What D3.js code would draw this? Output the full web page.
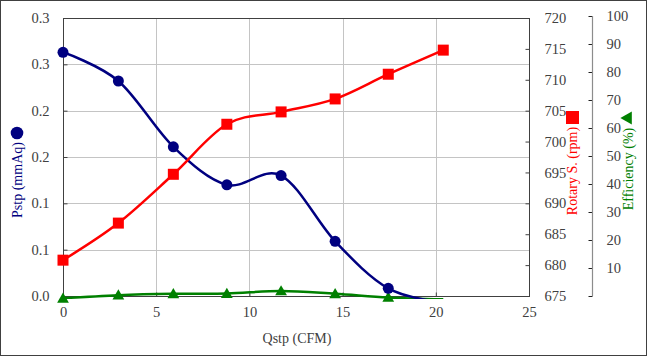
<!DOCTYPE html>
<html><head><meta charset="utf-8">
<script src="https://cdn.jsdelivr.net/npm/d3@7"></script>
<style>
html,body{margin:0;padding:0;background:#fff;}
svg{display:block;font-family:"Liberation Serif","Times New Roman",serif;}
svg text{font-family:"Liberation Serif","Times New Roman",serif !important;}
</style></head>
<body>
<svg id="chart" width="647" height="356"></svg>
<script>
// ---- data ----
const qstp = [0, 2.97, 5.92, 8.79, 11.7, 14.6, 17.45, 20.4];
const pstp = [0.263, 0.232, 0.161, 0.120, 0.130, 0.059, 0.0083, -0.007];
const rpm  = [680.8, 686.8, 694.7, 702.8, 704.8, 706.9, 710.9, 714.8];
const eff  = [-0.8, 0.3, 0.8, 0.9, 1.8, 0.8, -0.5, -1.2];

const xTicks = [0, 5, 10, 15, 20, 25];
const pTicks = [0, 0.05, 0.1, 0.15, 0.2, 0.25, 0.3];
const pTickLabels = ["0.0", "0.1", "0.1", "0.2", "0.2", "0.3", "0.3"];
const rTicks = [675, 680, 685, 690, 695, 700, 705, 710, 715, 720];
const eTicks = [0, 10, 20, 30, 40, 50, 60, 70, 80, 90, 100];
const eTickLabels = ["", "10", "20", "30", "40", "50", "60", "70", "80", "90", "100"];

const xTitle = "Qstp (CFM)";
const pTitle = "Pstp (mmAq)";
const rTitle = "Rotary S. (rpm)";
const eTitle = "Efficiency (%)";

// ---- layout ----
const W = 647, H = 356;
const L = 63, R = 529, T = 18, B = 296;
const BLUE = "#000080", RED = "#ff0000", GREEN = "#008000";
const FRAME = "#404040", GRID = "#c4c4c4";
const SERIF = '"Liberation Serif","Times New Roman",serif';

const svg = d3.select("#chart");
svg.append("rect").attr("x", 0.5).attr("y", 0.5).attr("width", W - 1).attr("height", H - 1)
  .attr("fill", "#fff").attr("stroke", FRAME).attr("stroke-width", 1);

const x = d3.scaleLinear().domain([0, 25]).range([L, R]);
const yP = d3.scaleLinear().domain([0, 0.3]).range([B, T]);
const yR = d3.scaleLinear().domain([675, 720]).range([B, T]);
const yE = d3.scaleLinear().domain([0, 100]).range([B, 16]);

// grid
const g = svg.append("g");
g.selectAll("line.h").data(pTicks.slice(1, -1)).join("line")
  .attr("x1", L).attr("x2", R).attr("y1", d => Math.round(yP(d)) + 0.5).attr("y2", d => Math.round(yP(d)) + 0.5)
  .attr("stroke", GRID).attr("stroke-width", 1);
g.selectAll("line.v").data(xTicks.slice(1, -1)).join("line")
  .attr("y1", T).attr("y2", B).attr("x1", d => Math.round(x(d)) + 0.5).attr("x2", d => Math.round(x(d)) + 0.5)
  .attr("stroke", GRID).attr("stroke-width", 1);

// plot border
svg.append("rect").attr("x", L + 0.5).attr("y", T + 0.5).attr("width", R - L).attr("height", B - T)
  .attr("fill", "none").attr("stroke", FRAME).attr("stroke-width", 1);

function styleAxis(sel, tickColor) {
  sel.attr("font-family", SERIF).attr("font-size", 14.5);
  sel.select(".domain").remove();
  sel.selectAll(".tick line").attr("stroke", tickColor || FRAME);
  sel.selectAll(".tick text").attr("fill", "#404040");
}

// left axis (ticks inward)
const ax1 = svg.append("g").attr("transform", `translate(${L + 0.5},0)`)
  .call(d3.axisLeft(yP).tickValues(pTicks).tickFormat((d, i) => pTickLabels[i]).tickSizeInner(-4).tickSizeOuter(0).tickPadding(14));
styleAxis(ax1);

// bottom axis
const ax2 = svg.append("g").attr("transform", `translate(0,${B + 0.5})`)
  .call(d3.axisBottom(x).tickValues(xTicks).tickFormat(d3.format("d")).tickSizeInner(-4).tickSizeOuter(0).tickPadding(10));
styleAxis(ax2);

// right axis rpm (ticks inward)
const ax3 = svg.append("g").attr("transform", `translate(${R + 0.5},0)`)
  .call(d3.axisRight(yR).tickValues(rTicks).tickFormat(d3.format("d")).tickSizeInner(-4).tickSizeOuter(0).tickPadding(15));
styleAxis(ax3);

// efficiency axis
const EX = 592;
const ax4 = svg.append("g").attr("transform", `translate(${EX + 0.5},0)`)
  .call(d3.axisRight(yE).tickValues(eTicks).tickFormat((d, i) => eTickLabels[i]).tickSizeInner(-4).tickSizeOuter(0).tickPadding(14));
styleAxis(ax4, "#202020");
svg.append("line").attr("x1", EX + 0.5).attr("x2", EX + 0.5).attr("y1", yE(100)).attr("y2", yE(0))
  .attr("stroke", "#8c8c8c").attr("stroke-width", 1.2);

// titles
svg.append("text").attr("x", 297).attr("y", 343).attr("text-anchor", "middle")
  .attr("fill", "#404040").style("font-size", "14px").text(xTitle);

svg.append("text").attr("transform", "translate(22,180) rotate(-90)").attr("text-anchor", "middle")
  .attr("fill", BLUE).style("font-size", "14px").text(pTitle);
svg.append("circle").attr("cx", 17).attr("cy", 133).attr("r", 6.3).attr("fill", BLUE);

svg.append("text").attr("transform", "translate(577,171) rotate(-90)").attr("text-anchor", "middle")
  .attr("fill", RED).style("font-size", "14px").text(rTitle);
svg.append("rect").attr("x", 566).attr("y", 111).attr("width", 13).attr("height", 13).attr("fill", RED);

svg.append("text").attr("transform", "translate(633,169) rotate(-90)").attr("text-anchor", "middle")
  .attr("fill", GREEN).style("font-size", "14px").text(eTitle);
svg.append("path").attr("d", d3.symbol(d3.symbolTriangle, 75)()).attr("transform", "translate(628,118) rotate(-90)")
  .attr("fill", GREEN);

// clip for lines
svg.append("defs").append("clipPath").attr("id", "clip")
  .append("rect").attr("x", L).attr("y", T - 10).attr("width", R - L).attr("height", B - T + 13);

const curve = d3.curveCatmullRom.alpha(0);
function series(vals, yScale, color) {
  const pts = qstp.map((q, i) => [q, vals[i]]);
  svg.append("path").datum(pts).attr("clip-path", "url(#clip)")
    .attr("fill", "none").attr("stroke", color).attr("stroke-width", 2.5)
    .attr("d", d3.line().x(d => x(d[0])).y(d => yScale(d[1])).curve(curve));
  return pts.filter(d => yScale(d[1]) <= B + 3);
}

const ptsE = series(eff, yE, GREEN);
const ptsP = series(pstp, yP, BLUE);
const ptsR = series(rpm, yR, RED);

svg.append("g").selectAll("path").data(ptsE).join("path")
  .attr("d", d3.symbol(d3.symbolTriangle, 60)())
  .attr("transform", d => `translate(${x(d[0])},${yE(d[1]) + 1})`).attr("fill", GREEN);
svg.append("g").selectAll("circle").data(ptsP).join("circle")
  .attr("cx", d => x(d[0])).attr("cy", d => yP(d[1])).attr("r", 5.5).attr("fill", BLUE);
svg.append("g").selectAll("rect").data(ptsR).join("rect")
  .attr("x", d => x(d[0]) - 5.5).attr("y", d => yR(d[1]) - 5.5).attr("width", 11).attr("height", 11).attr("fill", RED);
</script>
</body></html>
